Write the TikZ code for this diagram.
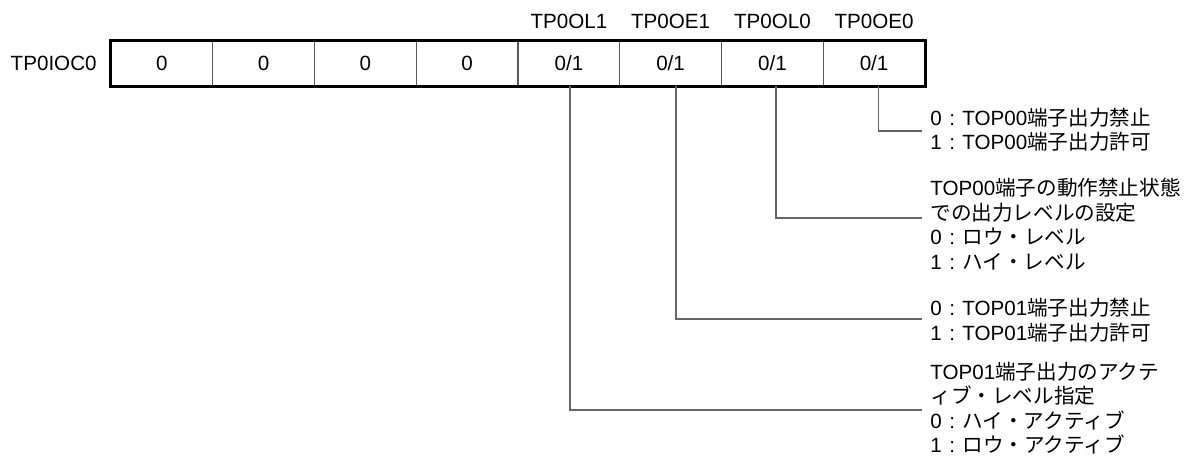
\documentclass[tikz,border=0pt]{standalone}
\usepackage{fontspec}
\setmainfont{Liberation Sans}
\newfontfamily\jp{Noto Sans CJK JP}
\newcommand\fc{\makebox[1em]{:}}
\begin{document}
\begin{tikzpicture}[x=0.5pt,y=-0.5pt,
  every node/.style={font=\fontsize{10.3}{12.25}\selectfont, inner sep=0pt},
  cell/.style={draw=black!65, line width=0.5pt, minimum width=50.875pt, minimum height=22.5pt},
  frame/.style={draw=black, line width=1.1pt},
  bitlbl/.style={anchor=center},
  reglbl/.style={anchor=east},
  desc/.style={anchor=west, align=left, inner xsep=4pt, inner ysep=0pt},
  conn/.style={draw=black!60, line width=0.6pt}]
\useasboundingbox (0,0) rectangle (1200,458);

\node[reglbl] (reg) at (97,63.5) {TP0IOC0};

\node[cell] (b7) at (161.9,63.5) {0};
\node[cell] (b6) at (263.6,63.5) {0};
\node[cell] (b5) at (365.4,63.5) {0};
\node[cell] (b4) at (467.1,63.5) {0};
\node[cell] (b3) at (568.9,63.5) {0/1};
\node[cell] (b2) at (670.6,63.5) {0/1};
\node[cell] (b1) at (772.4,63.5) {0/1};
\node[cell] (b0) at (874.1,63.5) {0/1};
\draw[frame] (b7.north west) rectangle (b0.south east);

\node[bitlbl] (l3) at (568.9,21) {TP0OL1};
\node[bitlbl] (l2) at (670.6,21) {TP0OE1};
\node[bitlbl] (l1) at (772.4,21) {TP0OL0};
\node[bitlbl] (l0) at (874.1,21) {TP0OE0};

\node[desc] (tA) at (922,129.5) {0\fc TOP00{\jp 端子出力禁止}\\1\fc TOP00{\jp 端子出力許可}};
\node[desc] (tB) at (922,224) {TOP00{\jp 端子の動作禁止状態}\\{\jp での出力レベルの設定}\\0\fc{\jp ロウ・レベル}\\1\fc{\jp ハイ・レベル}};
\node[desc] (tC) at (922,320) {0\fc TOP01{\jp 端子出力禁止}\\1\fc TOP01{\jp 端子出力許可}};
\node[desc] (tD) at (922,408) {TOP01{\jp 端子出力のアクテ}\\{\jp ィブ・レベル指定}\\0\fc{\jp ハイ・アクティブ}\\1\fc{\jp ロウ・アクティブ}};

\draw[conn] ([xshift=2pt]b0.south) |- ([yshift=-0.75pt]tA.west);
\draw[conn] ([xshift=1.8pt]b1.south) |- ([yshift=3pt]tB.west);
\draw[conn] ([xshift=2.7pt]b2.south) |- ([yshift=0.5pt]tC.west);
\draw[conn] ([xshift=0.5pt]b3.south) |- ([yshift=-1pt]tD.west);
\end{tikzpicture}
\end{document}
